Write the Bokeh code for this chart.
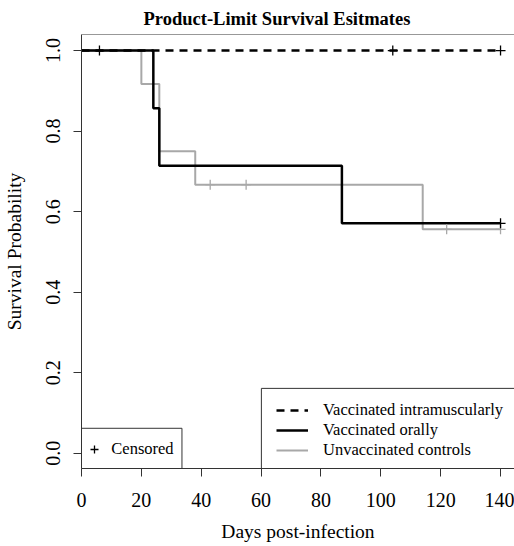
import numpy as np
from bokeh.plotting import figure
from bokeh.models import (Range1d, FixedTicker, PrintfTickFormatter, Legend,
                          LegendItem, BoxAnnotation, Span)
from bokeh.embed import file_html
from bokeh.resources import INLINE

# ---------------- data ----------------
title_text = "Product-Limit Survival Esitmates"
x_label = "Days post-infection"
y_label = "Survival Probability"
x_ticks = [0, 20, 40, 60, 80, 100, 120, 140]
y_ticks = [0.0, 0.2, 0.4, 0.6, 0.8, 1.0]

groups = ["Vaccinated intramuscularly", "Vaccinated orally", "Unvaccinated controls"]
censor_label = "Censored"

im_time = [0, 140]
im_surv = [1.0, 1.0]
im_cens = [6, 104, 140]

oral_time = [0, 24, 26, 87, 140]
oral_surv = [1.0, 0.857, 0.714, 0.571, 0.571]
oral_cens = [140]

ctrl_time = [0, 20, 26, 38, 114, 140]
ctrl_surv = [1.0, 0.917, 0.750, 0.667, 0.556, 0.556]
ctrl_cens = [43, 55, 122, 140]


def surv_at(times, surv, t):
    idx = np.searchsorted(np.asarray(times), np.asarray(t), side="right") - 1
    return list(np.asarray(surv)[idx])


# ---------------- layout ----------------
W, H = 514, 546
BL, BT, BB, BR = 80, 33, 78, 0
PX_PER_DAY = 3.0
frame_w = W - BL - BR
frame_h = H - BT - BB
y_start, y_end = -0.038, 1.04
px_per_unit = frame_h / (y_end - y_start)

FONT = "Liberation Serif"
AX_COL = "#333333"
GRAY = "#a8a8a8"

p = figure(width=W, height=H,
           x_range=Range1d(0, frame_w / PX_PER_DAY),
           y_range=Range1d(y_start, y_end),
           output_backend="svg", toolbar_location=None,
           min_border_left=BL, min_border_right=BR,
           min_border_top=BT, min_border_bottom=BB,
           background_fill_color="white", border_fill_color="white",
           outline_line_color=None, title=title_text)

p.title.align = "left"
p.title.offset = 62
p.title.text_font = FONT
p.title.text_font_size = "18.5px"
p.title.text_font_style = "bold"
p.title.text_color = "black"
p.title.standoff = 12

p.xgrid.visible = False
p.ygrid.visible = False

for ax in (p.xaxis[0], p.yaxis[0]):
    ax.axis_line_color = AX_COL
    ax.major_tick_line_color = AX_COL
    ax.major_tick_in = 0
    ax.major_tick_out = 8
    ax.minor_tick_line_color = None
    ax.major_label_text_font = FONT
    ax.major_label_text_font_size = "20px"
    ax.major_label_text_color = "black"
    ax.axis_label_text_font = FONT
    ax.axis_label_text_font_size = "19.5px"
    ax.axis_label_text_font_style = "normal"
    ax.axis_label_text_color = "black"

p.xaxis[0].ticker = FixedTicker(ticks=x_ticks)
p.xaxis[0].axis_label = x_label
p.xaxis[0].major_label_standoff = 16
p.xaxis[0].axis_label_standoff = 11

p.yaxis[0].ticker = FixedTicker(ticks=y_ticks)
p.yaxis[0].formatter = PrintfTickFormatter(format="%.1f")
p.yaxis[0].axis_label = y_label
p.yaxis[0].major_label_orientation = "vertical"
p.yaxis[0].major_label_standoff = 13
p.yaxis[0].axis_label_standoff = 19

# top border of the box
p.add_layout(Span(location=y_end, dimension="width", line_color=AX_COL, line_width=1))

# ---------------- curves ----------------
r_ctrl = p.step(ctrl_time, ctrl_surv, mode="after", line_color=GRAY, line_width=2)
r_im = p.step(im_time, im_surv, mode="after", line_color="black", line_width=2.5,
              line_dash="8 6")
r_oral = p.step(oral_time, oral_surv, mode="after", line_color="black", line_width=2.5)

p.scatter(ctrl_cens, surv_at(ctrl_time, ctrl_surv, ctrl_cens), marker="cross",
          size=10, line_color=GRAY, line_width=1.3)
p.scatter(oral_cens, surv_at(oral_time, oral_surv, oral_cens), marker="cross",
          size=10, line_color="black", line_width=1.3)
r_cens = p.scatter(im_cens, surv_at(im_time, im_surv, im_cens), marker="cross",
                   size=10, line_color="black", line_width=1.3)

# ---------------- legends ----------------
def px_to_x(px):
    return px / PX_PER_DAY


def px_to_y(px_above_bottom):
    return y_start + px_above_bottom / px_per_unit


# legend frames (pixel offsets from frame bottom-left)
p.add_layout(BoxAnnotation(left=px_to_x(0), right=px_to_x(100.7),
                           bottom=y_start, top=px_to_y(40.3),
                           fill_color=None, fill_alpha=0,
                           line_color=AX_COL, line_width=1, line_alpha=1))
p.add_layout(BoxAnnotation(left=px_to_x(180.3), right=px_to_x(frame_w + 40),
                           bottom=y_start, top=px_to_y(80.3),
                           fill_color=None, fill_alpha=0,
                           line_color=AX_COL, line_width=1, line_alpha=1))

leg_groups = Legend(items=[LegendItem(label=groups[0], renderers=[r_im]),
                           LegendItem(label=groups[1], renderers=[r_oral]),
                           LegendItem(label=groups[2], renderers=[r_ctrl])],
                    location=(195, 8), padding=0, spacing=0, margin=0,
                    glyph_width=32, glyph_height=20, label_height=20,
                    label_standoff=15, border_line_color=None,
                    background_fill_alpha=0, label_text_font=FONT,
                    label_text_font_size="16.5px", label_text_color="black")
leg_cens = Legend(items=[LegendItem(label=censor_label, renderers=[r_cens])],
                  location=(3.3, 9), padding=0, spacing=0, margin=0,
                  glyph_width=20, glyph_height=20, label_height=20,
                  label_standoff=7, border_line_color=None,
                  background_fill_alpha=0, label_text_font=FONT,
                  label_text_font_size="16.5px", label_text_color="black")
p.add_layout(leg_groups, "center")
p.add_layout(leg_cens, "center")

open("out.html", "w").write(file_html(p, INLINE))
